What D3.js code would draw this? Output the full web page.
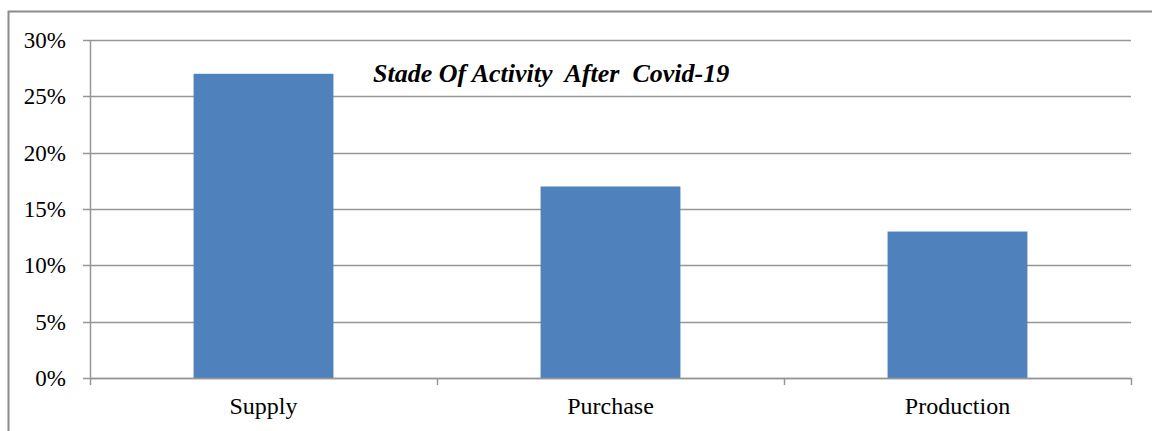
<!DOCTYPE html>
<html>
<head>
<meta charset="utf-8">
<script src="https://cdn.jsdelivr.net/npm/d3@7"></script>
<style>
body { margin: 0; background: #fff; }
svg text { font-family: "Liberation Serif", "Times New Roman", serif; fill: #000; }
</style>
</head>
<body>
<svg id="chart" width="1152" height="431"></svg>
<script>
var categories = ['Supply', 'Purchase', 'Production'];
var values = [0.27, 0.17, 0.13];
var yTicks = [0, 0.05, 0.10, 0.15, 0.20, 0.25, 0.30];
var title = 'Stade Of Activity  After  Covid-19';

var svg = d3.select('#chart');
var plotLeft = 90, plotRight = 1131, plotTop = 40, plotBottom = 378;

// outer frame (runs off the right and bottom edges)
svg.append('path')
    .attr('d', 'M8.5,440V11.5H1160')
    .attr('fill', 'none')
    .attr('stroke', '#8c8c8c')
    .attr('stroke-width', 2);

var x = d3.scaleBand().domain(categories).range([plotLeft, plotRight]).padding(0);
var y = d3.scaleLinear().domain([0, 0.30]).range([plotBottom, plotTop]);

// gridlines + y ticks
svg.append('g').selectAll('line')
    .data(yTicks)
    .enter().append('line')
        .attr('x1', plotLeft - 7)
        .attr('x2', plotRight)
        .attr('y1', function(d) { return Math.round(y(d)) + 0.5; })
        .attr('y2', function(d) { return Math.round(y(d)) + 0.5; })
        .attr('stroke', '#969696')
        .attr('stroke-width', 1.5);

svg.append('g').selectAll('text')
    .data(yTicks)
    .enter().append('text')
        .attr('x', 66)
        .attr('y', function(d) { return y(d); })
        .attr('dy', '0.35em')
        .attr('text-anchor', 'end')
        .attr('font-size', 23)
        .text(d3.format('.0%'));

// y axis line
svg.append('line')
    .attr('x1', plotLeft + 0.5).attr('x2', plotLeft + 0.5)
    .attr('y1', plotTop).attr('y2', plotBottom)
    .attr('stroke', '#969696').attr('stroke-width', 1.5);

// bars
var bw = x.bandwidth() * 0.403;
svg.append('g').selectAll('rect')
    .data(values)
    .enter().append('rect')
        .attr('x', function(d, i) { return x(categories[i]) + x.bandwidth() / 2 - bw / 2; })
        .attr('y', function(d) { return y(d); })
        .attr('width', bw)
        .attr('height', function(d) { return plotBottom - y(d); })
        .attr('fill', '#4f81bd');

// x axis + category ticks
svg.append('line')
    .attr('x1', plotLeft).attr('x2', plotRight)
    .attr('y1', plotBottom + 0.5).attr('y2', plotBottom + 0.5)
    .attr('stroke', '#969696').attr('stroke-width', 1.5);

var xt = categories.map(function(c) { return x(c); }).concat([plotRight]);
svg.append('g').selectAll('line')
    .data(xt)
    .enter().append('line')
        .attr('x1', function(d) { return Math.round(d) + 0.5; })
        .attr('x2', function(d) { return Math.round(d) + 0.5; })
        .attr('y1', plotBottom)
        .attr('y2', plotBottom + 7)
        .attr('stroke', '#969696')
        .attr('stroke-width', 1.5);

svg.append('g').selectAll('text')
    .data(categories)
    .enter().append('text')
        .attr('x', function(d) { return x(d) + x.bandwidth() / 2; })
        .attr('y', 414)
        .attr('text-anchor', 'middle')
        .attr('font-size', 24)
        .text(ident);

function ident(d) { return d; }

svg.append('text')
    .attr('x', 373)
    .attr('y', 82)
    .attr('font-size', 26)
    .attr('font-weight', 'bold')
    .attr('font-style', 'italic')
    .attr('xml:space', 'preserve')
    .style('white-space', 'pre')
    .text(title);
</script>
</body>
</html>
